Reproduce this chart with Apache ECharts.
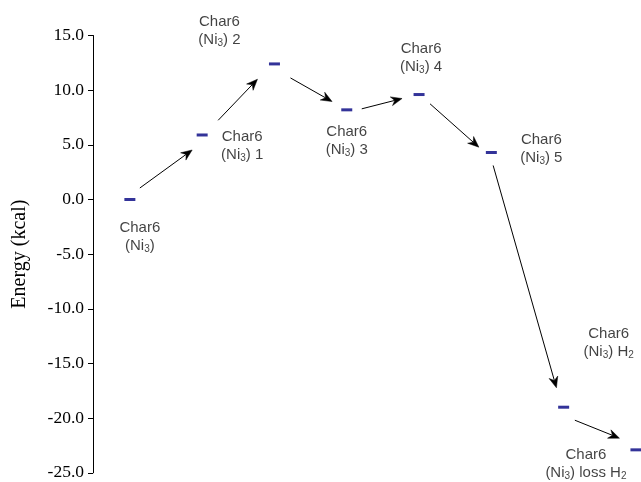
<!DOCTYPE html>
<html>
<head>
<meta charset="utf-8">
<script src="https://cdn.jsdelivr.net/npm/echarts@6/dist/echarts.min.js"></script>
<style>
  html, body { margin: 0; padding: 0; background: #fff; }
  #chart { width: 641px; height: 482px; }
</style>
</head>
<body>
<div id="chart"></div>
<script>
// ---- data ----
const categories = ['Char6 (Ni3)', 'Char6 (Ni3) 1', 'Char6 (Ni3) 2', 'Char6 (Ni3) 3',
                    'Char6 (Ni3) 4', 'Char6 (Ni3) 5', 'Char6 (Ni3) H2', 'Char6 (Ni3) loss H2'];
const labelPrefix = ['Char6', 'Char6', 'Char6', 'Char6', 'Char6', 'Char6', 'Char6', 'Char6'];
const labelSuffix = ['', '1', '2', '3', '4', '5', 'H2', 'loss H2'];
const energies = [0, 5.9, 12.4, 8.2, 9.6, 4.3, -19.0, -22.9];
const yMin = -25, yMax = 15, yStep = 5;
const yAxisTitle = 'Energy (kcal)';

// ---- layout (pixel offsets, not data) ----
const labelOffsets = [[10, 37], [40, 11], [-55, -33], [0, 31], [2, -37], [50, -4], [45, -64], [-50, 14]];
// arrow i goes from point i to point i+1; offsets in pixels relative to each end point
const arrowOffsets = [
  [[10, -11.5], [-10, 15]],
  [[16, -14.7], [-17, 15.3]],
  [[16, 14], [-14.7, -8.3]],
  [[15, -1], [-17, 4]],
  [[11, 9.3], [-12.5, -5.3]],
  [[1.8, 13], [-7.2, -19.4]],
  [[11.2, 13], [-16.5, -11.7]]
];

function richLabel(i) {
  let line2 = '{n|(Ni}{s|3}{n|)}';
  const suf = labelSuffix[i];
  if (suf === 'H2') line2 += '{n| H}{s|2}';
  else if (suf === 'loss H2') line2 += '{n| loss H}{s|2}';
  else if (suf) line2 += '{n| ' + suf + '}';
  return '{n|' + labelPrefix[i] + '}\n' + line2;
}

const pointData = energies.map((v, i) => ({
  value: [i, v],
  name: categories[i],
  label: { offset: labelOffsets[i] }
}));

const arrowData = energies.slice(0, -1).map((v, i) => [i, v, i + 1, energies[i + 1]]);

const chart = echarts.init(document.getElementById('chart'), null, { renderer: 'canvas' });
chart.setOption({
  animation: false,
  backgroundColor: '#fff',
  grid: { left: 93, right: 0, top: 35.5, bottom: 9.2, containLabel: false },
  xAxis: {
    type: 'value', min: -0.51, max: 7.07, show: false
  },
  yAxis: {
    type: 'value', min: yMin, max: yMax, interval: yStep,
    name: yAxisTitle, nameLocation: 'middle', nameGap: 63,
    nameTextStyle: { fontFamily: 'Liberation Serif', fontSize: 20, color: '#000' },
    axisLine: { show: true, onZero: false, lineStyle: { color: '#000', width: 1 } },
    axisTick: { show: true, inside: false, length: 5, lineStyle: { color: '#000' } },
    axisLabel: {
      margin: 9, fontFamily: 'Liberation Serif', fontSize: 17.5, color: '#000',
      formatter: v => v.toFixed(1)
    },
    splitLine: { show: false }
  },
  series: [
    {
      type: 'custom',
      z: 1,
      data: arrowData,
      renderItem: function (params, api) {
        const i = params.dataIndex;
        const p0 = api.coord([api.value(0), api.value(1)]);
        const p1 = api.coord([api.value(2), api.value(3)]);
        const o = arrowOffsets[i];
        const s = [p0[0] + o[0][0], p0[1] + o[0][1]];
        const e = [p1[0] + o[1][0], p1[1] + o[1][1]];
        const dx = e[0] - s[0], dy = e[1] - s[1];
        const len = Math.sqrt(dx * dx + dy * dy);
        const ux = dx / len, uy = dy / len;
        const px = -uy, py = ux;
        const hl = 11, hw = 4.5, notch = 7.5;
        const base = [e[0] - ux * hl, e[1] - uy * hl];
        const inner = [e[0] - ux * notch, e[1] - uy * notch];
        return {
          type: 'group',
          children: [
            {
              type: 'line',
              shape: { x1: s[0], y1: s[1], x2: inner[0], y2: inner[1] },
              style: { stroke: '#000', lineWidth: 1 }
            },
            {
              type: 'polygon',
              shape: { points: [e, [base[0] + px * hw, base[1] + py * hw], inner, [base[0] - px * hw, base[1] - py * hw]] },
              style: { fill: '#000', stroke: '#000', lineWidth: 0.5 }
            }
          ]
        };
      }
    },
    {
      type: 'scatter',
      z: 2,
      symbol: 'rect',
      symbolSize: [11, 3],
      itemStyle: { color: '#000080' },
      data: pointData,
      label: {
        show: true,
        position: 'inside',
        align: 'center',
        verticalAlign: 'middle',
        formatter: p => richLabel(p.dataIndex),
        rich: {
          n: { fontFamily: 'Liberation Sans', fontSize: 15, color: '#111', lineHeight: 18 },
          s: { fontFamily: 'Liberation Sans', fontSize: 10, color: '#111', lineHeight: 18, padding: [7, 0, 0, 0] }
        }
      }
    }
  ]
});
</script>
</body>
</html>
